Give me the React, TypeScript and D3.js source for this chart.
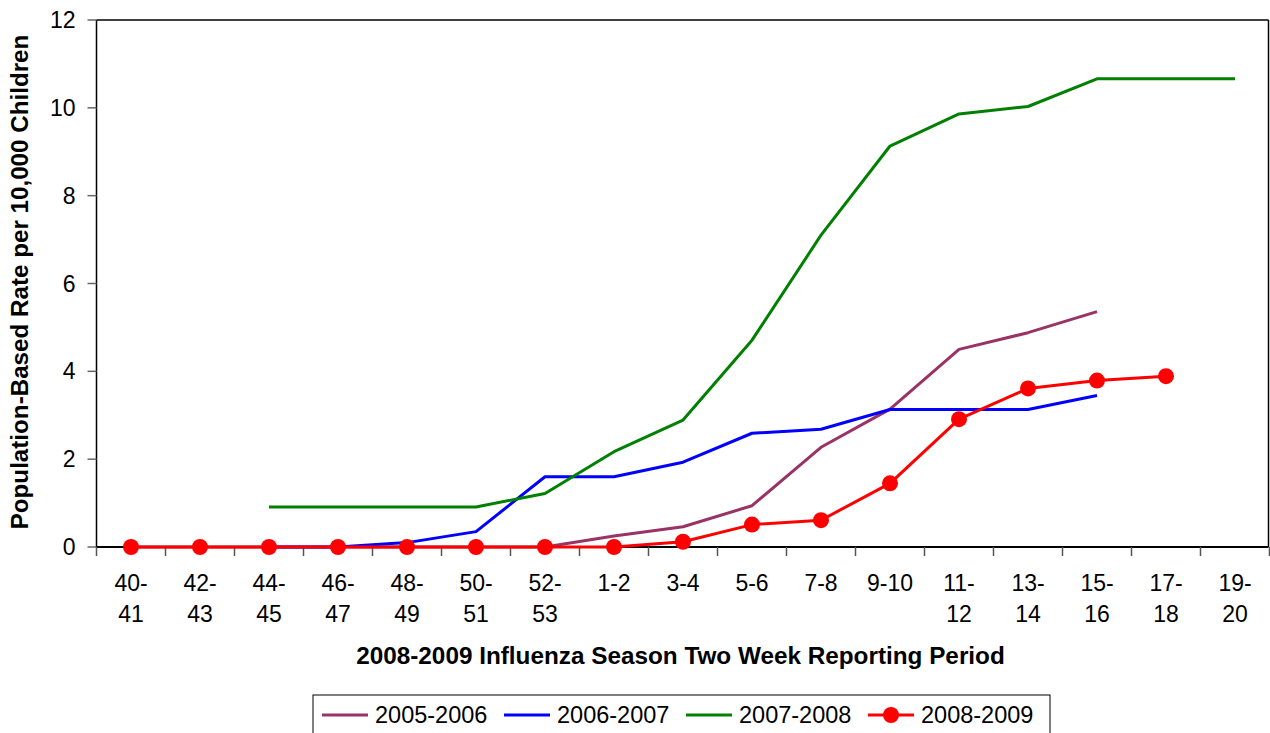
import React from "react";
import * as d3 from "d3";

const categories = ["40-41","42-43","44-45","46-47","48-49","50-51","52-53","1-2","3-4","5-6","7-8","9-10","11-12","13-14","15-16","17-18","19-20"];
const tickLine1 = ["40-","42-","44-","46-","48-","50-","52-","1-2","3-4","5-6","7-8","9-10","11-","13-","15-","17-","19-"];
const tickLine2 = ["41","43","45","47","49","51","53","","","","","","12","14","16","18","20"];
const yTicks = [0, 2, 4, 6, 8, 10, 12];

const s2005: (number | null)[] = [0, 0, 0, 0, 0, 0, 0, 0.25, 0.46, 0.94, 2.27, 3.14, 4.5, 4.88, 5.36, null, null];
const s2006: (number | null)[] = [null, null, 0, 0, 0.1, 0.35, 1.6, 1.6, 1.93, 2.59, 2.68, 3.13, 3.13, 3.13, 3.45, null, null];
const s2007: (number | null)[] = [null, null, 0.91, 0.91, 0.91, 0.91, 1.22, 2.17, 2.89, 4.71, 7.1, 9.13, 9.86, 10.03, 10.66, 10.66, 10.66];
const s2008: (number | null)[] = [0, 0, 0, 0, 0, 0, 0, 0, 0.12, 0.51, 0.61, 1.45, 2.91, 3.61, 3.79, 3.89, null];

const seriesNames = ["2005-2006", "2006-2007", "2007-2008", "2008-2009"];
const seriesData = [s2005, s2006, s2007, s2008];
const seriesColors = ["#993366", "#0000FF", "#008000", "#FF0000"];

const FONT = "'Liberation Sans', Arial, Helvetica, sans-serif";

export default function App() {
  const left = 96.5, right = 1269.5, top = 20, bottom = 547;
  const x = d3.scaleBand<string>().domain(categories).range([left, right]).padding(0);
  const y = d3.scaleLinear().domain([0, 12]).range([bottom, top]);
  const cx = (c: string) => (x(c) as number) + x.bandwidth() / 2;

  const line = d3
    .line<number | null>()
    .defined((d) => d !== null)
    .x((_, i) => cx(categories[i]))
    .y((d) => y(d as number));

  const boundaries = categories.map((c) => x(c) as number).concat([right]);

  return (
    <svg width={1270} height={733} style={{ position: "absolute", left: 0, top: 0, background: "#fff" }} fontFamily={FONT}>
      <rect x={0} y={0} width={1270} height={733} fill="#fff" />
      {/* plot border */}
      <line x1={left} y1={top} x2={right - 1} y2={top} stroke="#000" strokeWidth={1.5} />
      <line x1={right - 1} y1={top} x2={right - 1} y2={bottom} stroke="#000" strokeWidth={1.5} />
      {/* y axis */}
      <line x1={left} y1={top} x2={left} y2={bottom} stroke="#000" strokeWidth={1.5} />
      {yTicks.map((t) => (
        <g key={t}>
          <line x1={left - 9} x2={left} y1={y(t)} y2={y(t)} stroke="#666" strokeWidth={1.5} />
          <text x={left - 21} y={y(t) + 8} textAnchor="end" fontSize={23} fill="#000">
            {t}
          </text>
        </g>
      ))}
      {/* x axis */}
      <line x1={left} y1={bottom} x2={right - 1} y2={bottom} stroke="#000" strokeWidth={2} />
      {boundaries.map((b, i) => (
        <line key={i} x1={b} x2={b} y1={bottom} y2={bottom + 9} stroke="#555" strokeWidth={1.5} />
      ))}
      {categories.map((c, i) => (
        <g key={c}>
          <text x={cx(c)} y={591} textAnchor="middle" fontSize={23} fill="#000">
            {tickLine1[i]}
          </text>
          {tickLine2[i] && (
            <text x={cx(c)} y={622} textAnchor="middle" fontSize={23} fill="#000">
              {tickLine2[i]}
            </text>
          )}
        </g>
      ))}
      {/* series */}
      {seriesData.map((s, k) => (
        <path key={k} d={line(s) || ""} fill="none" stroke={seriesColors[k]} strokeWidth={3} strokeLinejoin="round" />
      ))}
      {s2008.map((v, i) =>
        v === null ? null : <circle key={i} cx={cx(categories[i])} cy={y(v)} r={8} fill="#FF0000" />
      )}
      {/* axis titles */}
      <text x={680.5} y={664} textAnchor="middle" fontSize={24.3} fontWeight="bold" fill="#000">
        2008-2009 Influenza Season Two Week Reporting Period
      </text>
      <text transform={`translate(28, 282) rotate(-90)`} textAnchor="middle" fontSize={24.2} fontWeight="bold" fill="#000">
        Population-Based Rate per 10,000 Children
      </text>
      {/* legend */}
      <rect x={313} y={695} width={737} height={50} fill="#fff" stroke="#000" strokeWidth={1} />
      {seriesNames.map((n, i) => {
        const ox = 322 + i * 182;
        return (
          <g key={n}>
            <line x1={ox} x2={ox + 46} y1={715} y2={715} stroke={seriesColors[i]} strokeWidth={3} />
            {i === 3 && <circle cx={ox + 23} cy={715} r={8} fill="#FF0000" />}
            <text x={ox + 53} y={723} fontSize={23.5} fill="#000">
              {n}
            </text>
          </g>
        );
      })}
    </svg>
  );
}
